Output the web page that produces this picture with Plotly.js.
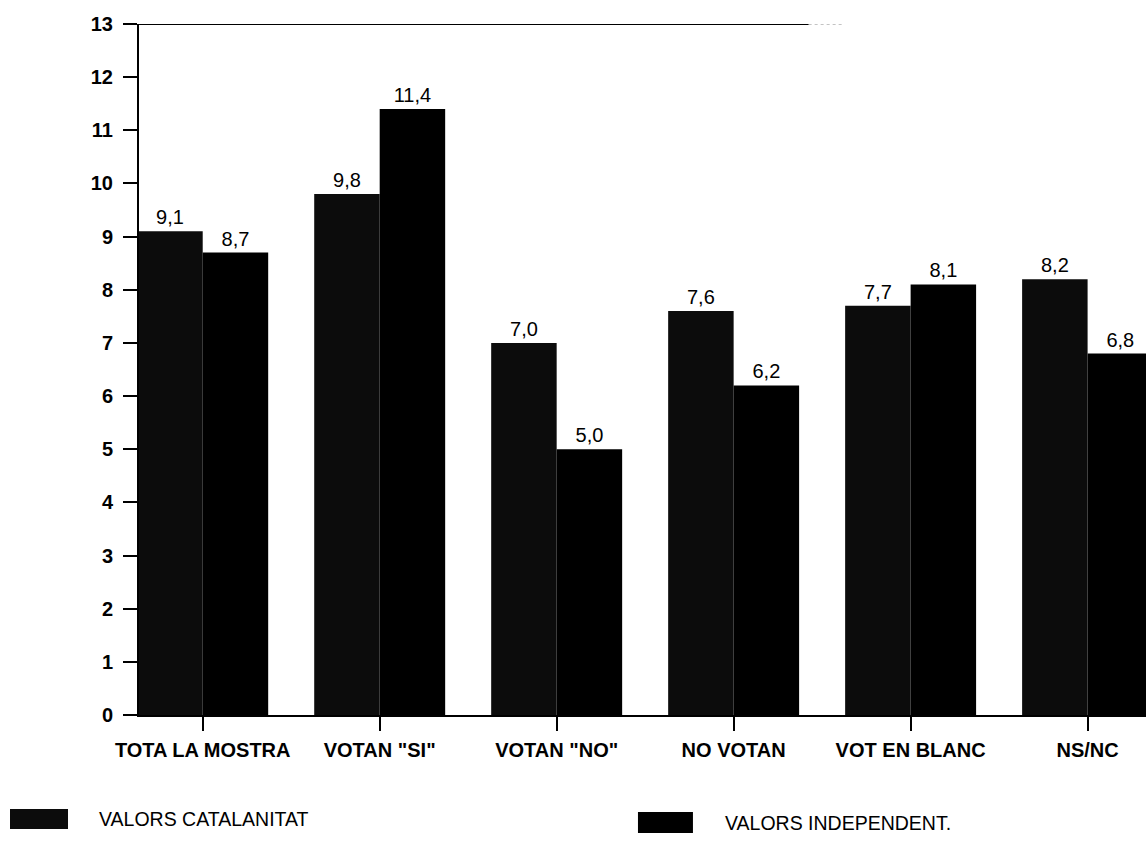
<!DOCTYPE html>
<html>
<head>
<meta charset="utf-8">
<script src="https://cdn.plot.ly/plotly-3.0.1.min.js"></script>
<style>
  html, body { margin: 0; padding: 0; background: #fff; }
  #chart { width: 1146px; height: 845px; }
</style>
</head>
<body>
<div id="chart"></div>
<script>
const categories = ['TOTA LA MOSTRA', 'VOTAN "SI"', 'VOTAN "NO"', 'NO VOTAN', 'VOT EN BLANC', 'NS/NC'];
const valorsCatalanitat = [9.1, 9.8, 7.0, 7.6, 7.7, 8.2];
const valorsIndependent = [8.7, 11.4, 5.0, 6.2, 8.1, 6.8];
const seriesNames = ['VALORS CATALANITAT', 'VALORS INDEPENDENT.'];
const seriesColors = ['#0c0c0c', '#000000'];
const yTicks = [0,1,2,3,4,5,6,7,8,9,10,11,12,13];

const xRange = [-0.36, 5.33];
const fontFam = 'Liberation Sans, Arial, sans-serif';

const traces = [
  {
    type: 'bar', name: seriesNames[0], x: categories, y: valorsCatalanitat,
    marker: { color: seriesColors[0], line: { width: 0 } },
    texttemplate: '%{y:.1f}', textposition: 'outside', cliponaxis: false,
    textfont: { family: fontFam, size: 20, color: '#000' },
    hoverinfo: 'skip'
  },
  {
    type: 'bar', name: seriesNames[1], x: categories, y: valorsIndependent,
    marker: { color: seriesColors[1], line: { width: 0 } },
    texttemplate: '%{y:.1f}', textposition: 'outside', cliponaxis: false,
    textfont: { family: fontFam, size: 20, color: '#000' },
    hoverinfo: 'skip'
  }
];

// legend key boxes (paper coordinates) placed as in the original printout
const legendKeys = [
  { box: [-0.1281, -0.0705, -0.165, -0.136], text: [-0.0417, -0.1505] },
  { box: [0.4955, 0.5501, -0.1708, -0.1404], text: [0.5799, -0.1563] }
];

const layout = {
  width: 1146, height: 845,
  margin: { l: 139, r: 0, t: 24, b: 130 },
  paper_bgcolor: '#fff', plot_bgcolor: '#fff',
  separators: ',.',
  barmode: 'group', bargap: 0.26, bargroupgap: 0,
  showlegend: false,
  font: { family: fontFam, color: '#000' },
  xaxis: {
    type: 'category', range: xRange, tickangle: 0,
    ticks: 'outside', ticklen: 14, tickwidth: 2, tickcolor: '#000',
    ticklabelstandoff: 2,
    tickfont: { family: fontFam, size: 20, weight: 'bold', color: '#000' },
    showline: true, linecolor: '#000', linewidth: 2, showgrid: false, zeroline: false
  },
  yaxis: {
    range: [0, 13], tickmode: 'array', tickvals: yTicks,
    ticks: 'outside', ticklen: 14, tickwidth: 2, tickcolor: '#000',
    tickfont: { family: fontFam, size: 20, weight: 'bold', color: '#000' },
    showline: true, linecolor: '#000', linewidth: 2, showgrid: false, zeroline: false,
    ticklabelstandoff: 6
  },
  shapes: [
    { type: 'line', xref: 'paper', yref: 'y', x0: 0, x1: 0.665, y0: 13, y1: 13,
      line: { color: '#000', width: 2 } },
    { type: 'line', xref: 'paper', yref: 'y', x0: 0.665, x1: 0.70, y0: 13, y1: 13,
      line: { color: '#888', width: 1, dash: 'dot' } }
  ].concat(legendKeys.map(function (k, i) {
    return { type: 'rect', xref: 'paper', yref: 'paper',
      x0: k.box[0], x1: k.box[1], y0: k.box[2], y1: k.box[3],
      fillcolor: seriesColors[i], line: { width: 0 } };
  })),
  annotations: legendKeys.map(function (k, i) {
    return { xref: 'paper', yref: 'paper', x: k.text[0], y: k.text[1],
      xanchor: 'left', yanchor: 'middle', showarrow: false,
      text: seriesNames[i], font: { family: fontFam, size: 19.5, color: '#000' } };
  })
};

Plotly.newPlot('chart', traces, layout, { displayModeBar: false, staticPlot: true });
</script>
</body>
</html>
